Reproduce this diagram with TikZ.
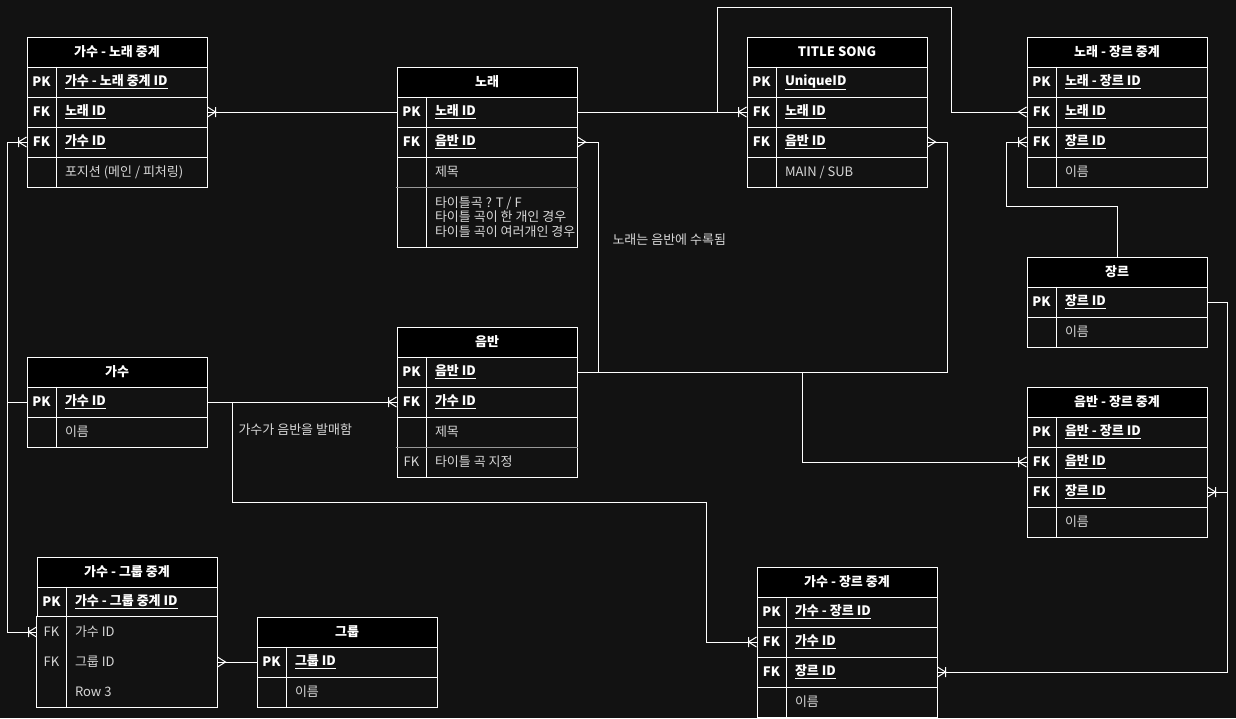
\documentclass[tikz,border=0pt]{standalone}
\usepackage{fontspec}
\setmainfont{Noto Sans CJK KR}
\usetikzlibrary{arrows.meta}

\definecolor{canvas}{RGB}{18,18,18}
\definecolor{fieldgray}{RGB}{215,215,215}

% crow's foot ends (many / one-or-many)
\pgfdeclarearrow{
  name = crowmany,
  setup code = {
    \pgfarrowssettipend{0pt}
    \pgfarrowssetlineend{0pt}
    \pgfarrowssetbackend{-8pt}
    \pgfarrowshullpoint{0pt}{5pt}
    \pgfarrowshullpoint{0pt}{-5pt}
    \pgfarrowshullpoint{-8pt}{0pt}
  },
  drawing code = {
    \pgfpathmoveto{\pgfqpoint{0pt}{5pt}}
    \pgfpathlineto{\pgfqpoint{-8pt}{0pt}}
    \pgfpathlineto{\pgfqpoint{0pt}{-5pt}}
    \pgfusepathqstroke
  }
}
\pgfdeclarearrow{
  name = crowone,
  setup code = {
    \pgfarrowssettipend{0pt}
    \pgfarrowssetlineend{0pt}
    \pgfarrowssetbackend{-8pt}
    \pgfarrowshullpoint{0pt}{5pt}
    \pgfarrowshullpoint{0pt}{-5pt}
    \pgfarrowshullpoint{-8pt}{5pt}
    \pgfarrowshullpoint{-8pt}{-5pt}
  },
  drawing code = {
    \pgfpathmoveto{\pgfqpoint{0pt}{5pt}}
    \pgfpathlineto{\pgfqpoint{-8pt}{0pt}}
    \pgfpathlineto{\pgfqpoint{0pt}{-5pt}}
    \pgfpathmoveto{\pgfqpoint{-8pt}{5pt}}
    \pgfpathlineto{\pgfqpoint{-8pt}{-5pt}}
    \pgfusepathqstroke
  }
}

% one table row: [text style]{name}{centre}{key}{field}
\newcommand{\dbrow}[5][idtxt]{%
  \node[row] (#2) at (#3) {};
  \node[#1] at ([xshift=15pt]#2.west) {#4};
  \node[#1, anchor=west] at ([xshift=38pt]#2.west) {#5};
  \draw[white] ([xshift=30pt]#2.north west) -- ([xshift=30pt]#2.south west);
}

\AtBeginDocument{\fontsize{13}{14.5}\selectfont}

\begin{document}
\begin{tikzpicture}[
  x=1pt, y=-1pt,
  line width=1pt,
  hdr/.style={rectangle, draw=white, fill=black, text=white, font=\bfseries, minimum width=180pt, minimum height=30pt, inner sep=0pt},
  row/.style={rectangle, draw=white, fill=canvas, minimum width=180pt, minimum height=30pt, inner sep=0pt},
  idtxt/.style={text=white, font=\bfseries, inner sep=0pt},
  plaintxt/.style={text=fieldgray, inner sep=0pt},
  note/.style={text=fieldgray, inner sep=0pt},
  rel/.style={draw=white, line width=1pt}
]

% Canvas
\fill[canvas] (0,0) rectangle (1236,718);
\useasboundingbox (0,0) rectangle (1236,718);

% 가수 - 노래 중계
\node[hdr] (singsong) at (117,52) {가수 - 노래 중계};
\dbrow{singsong-pk}{117,82}{PK}{\underline{가수 - 노래 중계 ID}}
\dbrow{singsong-song}{117,112}{FK}{\underline{노래 ID}}
\dbrow{singsong-singer}{117,142}{FK}{\underline{가수 ID}}
\dbrow[plaintxt]{singsong-pos}{117,172}{}{포지션 (메인 / 피처링)}

% 노래
\node[hdr] (song) at (487,82) {노래};
\dbrow{song-pk}{487,112}{PK}{\underline{노래 ID}}
\dbrow{song-album}{487,142}{FK}{\underline{음반 ID}}
\dbrow[plaintxt]{song-title}{487,172}{}{제목}
\node[row, minimum height=60pt] (song-memo) at (487,217) {};
\node[plaintxt, anchor=west, align=left] at ([xshift=38pt]song-memo.west) {타이틀곡 ? T / F\\타이틀 곡이 한 개인 경우\\타이틀 곡이 여러개인 경우};
\draw[white] ([xshift=30pt]song-memo.north west) -- ([xshift=30pt]song-memo.south west);
\draw[gray!80] ([xshift=-1pt]song-title.south west) -- (song-title.south east);

% TITLE SONG
\node[hdr] (title) at (837,52) {TITLE SONG};
\dbrow{title-pk}{837,82}{PK}{\underline{UniqueID}}
\dbrow{title-song}{837,112}{FK}{\underline{노래 ID}}
\dbrow{title-album}{837,142}{FK}{\underline{음반 ID}}
\dbrow[plaintxt]{title-main}{837,172}{}{MAIN / SUB}

% 노래 - 장르 중계
\node[hdr] (songgenre) at (1117,52) {노래 - 장르 중계};
\dbrow{songgenre-pk}{1117,82}{PK}{\underline{노래 - 장르 ID}}
\dbrow{songgenre-song}{1117,112}{FK}{\underline{노래 ID}}
\dbrow{songgenre-genre}{1117,142}{FK}{\underline{장르 ID}}
\dbrow[plaintxt]{songgenre-name}{1117,172}{}{이름}

% 장르
\node[hdr] (genre) at (1117,272) {장르};
\dbrow{genre-pk}{1117,302}{PK}{\underline{장르 ID}}
\dbrow[plaintxt]{genre-name}{1117,332}{}{이름}

% 가수
\node[hdr] (singer) at (117,372) {가수};
\dbrow{singer-pk}{117,402}{PK}{\underline{가수 ID}}
\dbrow[plaintxt]{singer-name}{117,432}{}{이름}

% 음반
\node[hdr] (album) at (487,342) {음반};
\dbrow{album-pk}{487,372}{PK}{\underline{음반 ID}}
\dbrow{album-singer}{487,402}{FK}{\underline{가수 ID}}
\dbrow[plaintxt]{album-title}{487,432}{}{제목}
\dbrow[plaintxt]{album-tsong}{487,462}{FK}{타이틀 곡 지정}
\draw[gray!80] ([xshift=-1pt]album-title.south west) -- (album-title.south east);

% 음반 - 장르 중계
\node[hdr] (albumgenre) at (1117,402) {음반 - 장르 중계};
\dbrow{albumgenre-pk}{1117,432}{PK}{\underline{음반 - 장르 ID}}
\dbrow{albumgenre-album}{1117,462}{FK}{\underline{음반 ID}}
\dbrow{albumgenre-genre}{1117,492}{FK}{\underline{장르 ID}}
\dbrow[plaintxt]{albumgenre-name}{1117,522}{}{이름}

% 가수 - 그룹 중계
\node[hdr] (singgroup) at (127,572) {가수 - 그룹 중계};
\dbrow{singgroup-pk}{127,602}{PK}{\underline{가수 - 그룹 중계 ID}}
\begin{scope}[row/.append style={draw=none}]
\dbrow[plaintxt]{singgroup-singer}{127,632}{FK}{가수 ID}
\dbrow[plaintxt]{singgroup-group}{127,662}{FK}{그룹 ID}
\dbrow[plaintxt]{singgroup-row}{127,692}{}{Row 3}
\end{scope}
\draw[white] (singgroup-singer.north west) rectangle (singgroup-row.south east);

% 그룹
\node[hdr] (group) at (347,632) {그룹};
\dbrow{group-pk}{347,662}{PK}{\underline{그룹 ID}}
\dbrow[plaintxt]{group-name}{347,692}{}{이름}

% 가수 - 장르 중계
\node[hdr] (singgenre) at (847,582) {가수 - 장르 중계};
\dbrow{singgenre-pk}{847,612}{PK}{\underline{가수 - 장르 ID}}
\dbrow{singgenre-singer}{847,642}{FK}{\underline{가수 ID}}
\dbrow{singgenre-genre}{847,672}{FK}{\underline{장르 ID}}
\dbrow[plaintxt]{singgenre-name}{847,702}{}{이름}

% Relations
\draw[rel, -crowone] (song-pk.west) -- (singsong-song.east);
\draw[rel, -crowone] (song-pk.east) -- (title-song.west);
\draw[rel, -crowmany] ([xshift=140pt]song-pk.east) -- ++(0,-105) -| ([xshift=-75pt]songgenre-song.west) -- (songgenre-song.west);
\draw[rel, -crowmany] (album-pk.east) -- ++(21,0) |- (song-album.east);
\draw[rel, -crowmany] (album-pk.east) -| ([xshift=20pt]title-album.east) -- (title-album.east);
\draw[rel, -crowone] ([xshift=225pt]album-pk.east) |- (albumgenre-album.west);
\draw[rel, -crowone] (singer-pk.west) -- ++(-19,0) |- (singsong-singer.west);
\draw[rel, -crowone] (singer-pk.west) -- ++(-19,0) |- (singgroup-singer.west);
\draw[rel, -crowone] (singer-pk.east) -- (album-singer.west);
\draw[rel, -crowone] ([xshift=25pt]singer-pk.east) -- ++(0,100) -| ([xshift=-50pt]singgenre-singer.west) -- (singgenre-singer.west);
\draw[rel, -crowone] (genre-pk.east) -- ++(20,0) |- (singgenre-genre.east);
\draw[rel, -crowone] (genre-pk.east) -- ++(20,0) |- (albumgenre-genre.east);
\draw[rel, -crowone] (genre.north) -- ++(0,-50) -| ([xshift=-20pt]songgenre-genre.west) -- (songgenre-genre.west);
\draw[rel, -crowmany] (group-pk.west) -- (singgroup-group.east);

% Notes
\node[note, anchor=west] (songnote) at (612,240) {노래는 음반에 수록됨};
\node[note, anchor=west] (singernote) at (238,430) {가수가 음반을 발매함};

\end{tikzpicture}
\end{document}
